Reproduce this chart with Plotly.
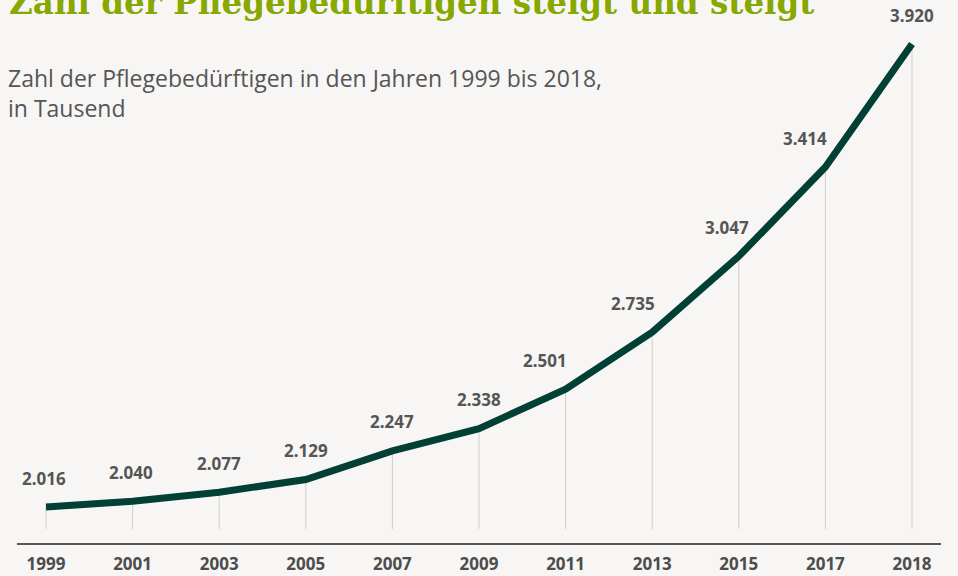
import plotly.graph_objects as go

years = ["1999", "2001", "2003", "2005", "2007", "2009", "2011", "2013", "2015", "2017", "2018"]
values = [2016, 2040, 2077, 2129, 2247, 2338, 2501, 2735, 3047, 3414, 3920]
labels = ["2.016", "2.040", "2.077", "2.129", "2.247", "2.338", "2.501", "2.735", "3.047", "3.414", "3.920"]

title = "Zahl der Pflegebedürftigen steigt und steigt"
subtitle = "Zahl der Pflegebedürftigen in den Jahren 1999 bis 2018,<br>in Tausend"

BG = "#f7f6f4"
LINE = "#023f35"
GRAY = "#555555"
DROP_BASE = 1926  # where the thin drop lines end

W, H = 958, 576
ML, MR, MT, MB = 17, 17, 0, 33

# horizontal nudges of the value labels (pixels), style only
label_dx = [-2, -2, 0, 0, 0, 0, -21, -19, -12, -20, 0]

fig = go.Figure()

# thin vertical drop lines from each point
fig.add_trace(go.Scatter(
    x=years, y=values, mode="markers",
    marker=dict(size=1, color="rgba(0,0,0,0)"),
    error_y=dict(type="data", symmetric=False,
                 array=[0] * len(values),
                 arrayminus=[v - DROP_BASE for v in values],
                 color="#cfcdca", thickness=1, width=0),
    hoverinfo="skip", showlegend=False,
))

fig.add_trace(go.Scatter(
    x=years, y=values, mode="lines",
    line=dict(color=LINE, width=7),
    showlegend=False,
))

# value labels (category index used as x position on the category axis)
for i, (v, lab, dx) in enumerate(zip(values, labels, label_dx)):
    fig.add_annotation(x=i, y=v, xref="x", yref="y", text="<b>" + lab + "</b>", showarrow=False,
                       xanchor="center", yanchor="middle", xshift=dx, yshift=29,
                       font=dict(family="Noto Sans", size=17, color=GRAY))

plot_h = H - MT - MB
plot_w = W - ML - MR

fig.add_annotation(xref="paper", yref="paper", x=-10 / plot_w, y=1 - 24 / plot_h,
                   xanchor="left", yanchor="bottom", text="<b>" + title + "</b>", showarrow=False,
                   font=dict(family="DejaVu Serif", size=32.6, color="#86a800"))

fig.add_annotation(xref="paper", yref="paper", x=-11 / plot_w, y=1 - 60 / plot_h,
                   xanchor="left", yanchor="top", align="left", text=subtitle, showarrow=False,
                   font=dict(family="Open Sans", size=23, color=GRAY))

fig.update_layout(
    width=W, height=H,
    margin=dict(l=ML, r=MR, t=MT, b=MB, pad=0),
    paper_bgcolor=BG, plot_bgcolor=BG,
    xaxis=dict(type="category", range=[-0.3349, 10.3349], showgrid=False, zeroline=False,
               showline=True, linecolor="#5b544f", linewidth=2, ticks="", automargin=False,
               tickfont=dict(family="Noto Sans", size=17, color="#4d4d4d", weight="bold"),
               ticklabelstandoff=5),
    yaxis=dict(range=[1868, 4101], visible=False, showgrid=False, zeroline=False,
               automargin=False),
)

fig.write_html("out.html", config={"displayModeBar": False},
               post_script="document.body.style.margin='0';document.body.style.padding='0';")
